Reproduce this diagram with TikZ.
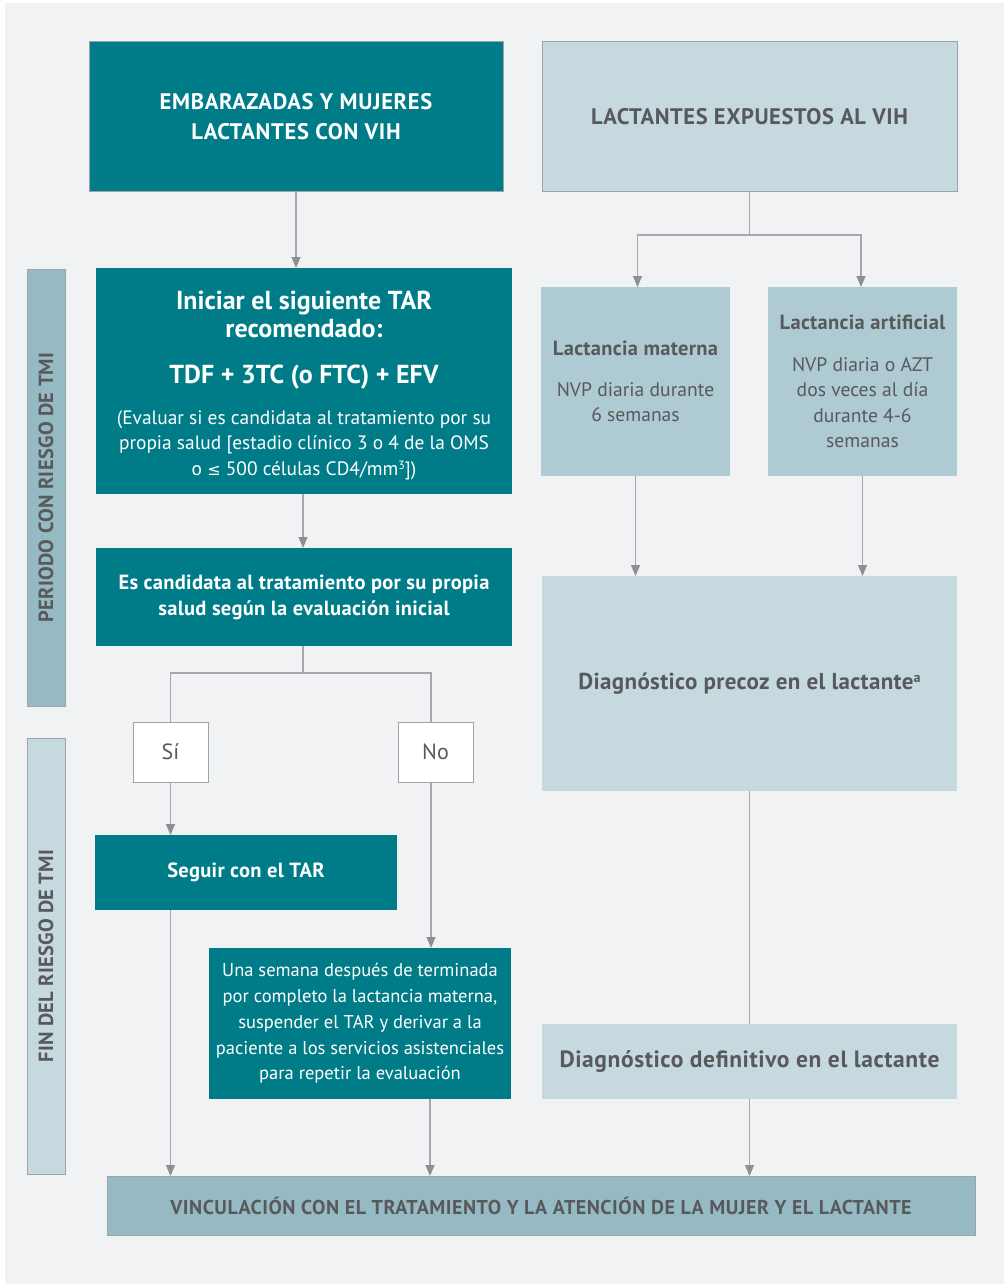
\documentclass[tikz,border=0pt]{standalone}
\usepackage{fontspec}
\setmainfont{PT Sans}
\newfontfamily\symfont{DejaVu Sans}
\usetikzlibrary{arrows.meta}
\definecolor{tealbox}{HTML}{007C88}
\definecolor{paleblue}{HTML}{C5D9DF}
\definecolor{midblue}{HTML}{AECAD3}
\definecolor{darkblue}{HTML}{96BAC4}
\definecolor{txtgrey}{HTML}{58595B}
\definecolor{linegrey}{HTML}{A5A7AA}
\definecolor{tipgrey}{HTML}{8E8F92}
\definecolor{panelgrey}{HTML}{F1F2F4}
\definecolor{bordergrey}{HTML}{9DA3A6}
\newcommand\setfs[2]{\fontsize{#1}{#2}\selectfont}
\begin{document}
\begin{tikzpicture}[x=1pt,y=-1pt,
  box/.style={rectangle, inner sep=0pt, outer sep=0pt, align=center},
  tbox/.style={box, fill=tealbox, text=white},
  lbox/.style={box, fill=paleblue, text=txtgrey},
  mbox/.style={box, fill=midblue, text=txtgrey},
  wbox/.style={box, fill=white, draw=bordergrey, line width=1pt, text=txtgrey},
  side/.style={box, draw=bordergrey, line width=1pt},
  conn/.style={draw=linegrey, line width=1.2pt},
  arr/.style={conn, -{Triangle[width=9pt,length=11pt,color=tipgrey]}},
  txt/.style={inner sep=0pt, outer sep=0pt, anchor=base, text=white, align=center}
]
\useasboundingbox (0,0) rectangle (1004,1284);
\fill[panelgrey] (5,3) rectangle (1004,1284);

% side bars
\node[side, fill=darkblue, minimum width=38pt, minimum height=437pt] (S1) at (46,487.5) {};
\node[text=txtgrey, rotate=90, font=\bfseries\setfs{20.5}{24}\addfontfeatures{LetterSpace=1.5}] (S1t) at (S1.center) {PERIODO CON RIESGO DE TMI};
\node[side, fill=paleblue, minimum width=38pt, minimum height=436pt] (S2) at (46,956) {};
\node[text=txtgrey, rotate=90, font=\bfseries\setfs{20.5}{24}\addfontfeatures{LetterSpace=1}] (S2t) at (S2.center) {FIN DEL RIESGO DE TMI};

% left column
\node[tbox, draw=bordergrey, line width=1pt, minimum width=414pt, minimum height=150pt,
      font=\bfseries\setfs{22.5}{30}\addfontfeatures{LetterSpace=3}] (A) at (296,117) {EMBARAZADAS Y MUJERES\\LACTANTES CON VIH};

\node[tbox, minimum width=416pt, minimum height=226pt] (C) at (304,381) {};
\node[txt, font=\bfseries\setfs{26}{29}] (C1) at (304,309) {Iniciar el siguiente TAR};
\node[txt, font=\bfseries\setfs{26}{29}] (C2) at (304,337) {recomendado:};
\node[txt, font=\bfseries\setfs{26}{29}] (C3) at (304,383.5) {TDF + 3TC (o FTC) + EFV};
\node[txt, font=\setfs{19.4}{25}] (C4) at (304,424) {(Evaluar si es candidata al tratamiento por su};
\node[txt, font=\setfs{19.4}{25}] (C5) at (304,449.5) {propia salud [estadio clínico 3 o 4 de la OMS};
\node[txt, font=\setfs{19.4}{25}] (C6) at (304,475) {o {\symfont\setfs{16}{25}≤} 500 células CD4/mm\raisebox{6pt}{\setfs{12}{12}3}])};

\node[tbox, minimum width=416pt, minimum height=98pt, font=\bfseries\setfs{20.5}{26}\addfontfeatures{LetterSpace=1.5}] (Dc) at (304,597)
  {Es candidata al tratamiento por su propia\\salud según la evaluación inicial};

\node[wbox, minimum width=75pt, minimum height=60pt, font=\setfs{22}{24}] (Si) at (170.5,752) {Sí};
\node[wbox, minimum width=75pt, minimum height=60pt, font=\setfs{22}{24}] (No) at (435.5,752) {No};

\node[tbox, minimum width=302pt, minimum height=75pt, font=\bfseries\setfs{20.5}{26}\addfontfeatures{LetterSpace=1.5}] (Seg) at (246,872.5) {Seguir con el TAR};

\node[tbox, minimum width=302pt, minimum height=151pt, font=\setfs{18.5}{25.7}] (Una) at (360,1023.5)
  {Una semana después de terminada\\por completo la lactancia materna,\\suspender el TAR y derivar a la\\paciente a los servicios asistenciales\\para repetir la evaluación};

% right column
\node[lbox, draw=bordergrey, line width=1pt, minimum width=415pt, minimum height=150pt,
      font=\bfseries\setfs{22.5}{30}\addfontfeatures{LetterSpace=2.5}] (B) at (749.5,117) {LACTANTES EXPUESTOS AL VIH};

\node[mbox, minimum width=189pt, minimum height=189pt, font=\setfs{19.6}{25.5}] (D) at (635.5,381.5)
  {{\bfseries\addfontfeatures{LetterSpace=1.5}\setfs{20.5}{25.5}Lactancia materna}\\[15pt]NVP diaria durante\\6 semanas};
\node[mbox, minimum width=189pt, minimum height=189pt, font=\setfs{19.6}{25.5}] (E) at (862.5,381.5)
  {{\bfseries\addfontfeatures{LetterSpace=1.5}\setfs{20.5}{25.5}Lactancia artificial}\\[16pt]NVP diaria o AZT\\dos veces al día\\durante 4-6\\semanas};

\node[lbox, minimum width=415pt, minimum height=215pt, font=\bfseries\setfs{23}{26}\addfontfeatures{LetterSpace=1.5}] (F) at (749.5,683.5)
  {Diagnóstico precoz en el lactante\raisebox{7pt}{\setfs{14}{14}a}};

\node[lbox, minimum width=415pt, minimum height=75pt, font=\bfseries\setfs{23.5}{26}\addfontfeatures{LetterSpace=2.5}] (G) at (749.5,1061.5)
  {Diagnóstico definitivo en el lactante};

% bottom
\node[box, fill=darkblue, draw=bordergrey, line width=1pt, text=txtgrey, minimum width=868pt, minimum height=59pt,
      font=\bfseries\setfs{20}{22}\addfontfeatures{LetterSpace=2.6}] (H) at (541,1205.5)
  {VINCULACIÓN CON EL TRATAMIENTO Y LA ATENCIÓN DE LA MUJER Y EL LACTANTE};

% connectors
\draw[arr] (A.south) -- (A.south |- C.north);
\draw[arr] ([xshift=-1pt]C.south) -- ([xshift=-1pt]Dc.north);
\coordinate (dsplit) at (303,673);
\draw[conn] ([xshift=-1pt]Dc.south) -- (dsplit);
\draw[conn] (dsplit) -| (Si.north);
\draw[conn] (dsplit) -| ([xshift=-4.5pt]No.north);
\draw[arr] (Si.south) -- (Si.south |- Seg.north);
\draw[arr] ([xshift=-4.5pt]No.south) -- ([xshift=-4.5pt]No.south |- Una.north);
\draw[arr] (Seg.south -| Si.south) -- (Si.south |- H.north);
\draw[arr] ([xshift=70pt]Una.south) -- ([xshift=70pt]Una.south |- H.north);

\coordinate (bsplit) at (749.5,235);
\draw[conn] (B.south) -- (bsplit);
\draw[arr] (bsplit) -| ([xshift=2pt]D.north);
\draw[arr] (bsplit) -| ([xshift=-1.5pt]E.north);
\draw[arr] (D.south) -- (D.south |- F.north);
\draw[arr] (E.south) -- (E.south |- F.north);
\draw[conn] (F.south) -- (G.north);
\draw[arr] (G.south) -- (G.south |- H.north);
\end{tikzpicture}
\end{document}
